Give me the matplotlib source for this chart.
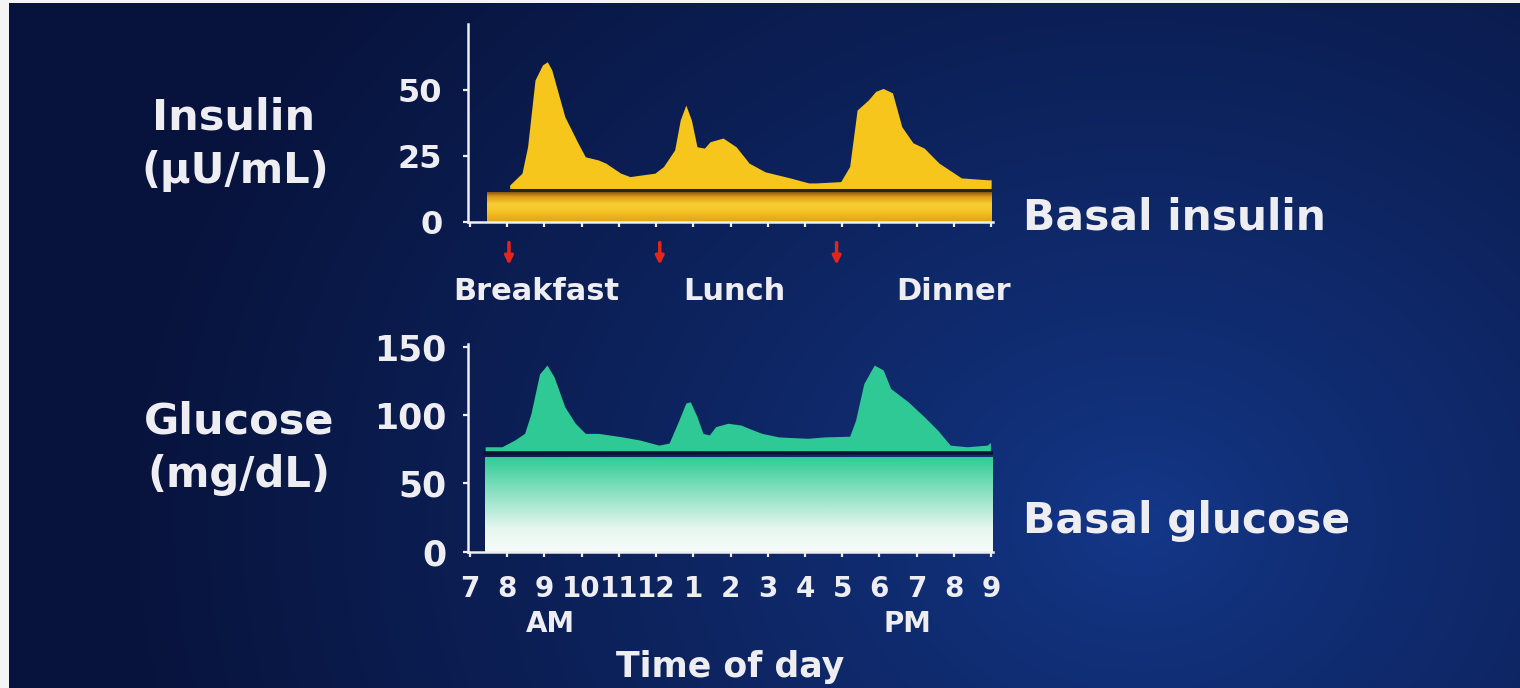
import numpy as np
import matplotlib.pyplot as plt
from matplotlib.colors import LinearSegmentedColormap
from matplotlib.transforms import blended_transform_factory

# --- data (hour of day, 24 h clock) ---
hour_ticks = list(range(7, 22))
hour_labels = ['7', '8', '9', '10', '11', '12', '1', '2', '3', '4', '5', '6', '7', '8', '9']

insulin_hours = [8.07, 8.4, 8.55, 8.75, 8.95, 9.08, 9.2, 9.55, 9.9, 10.1, 10.45, 10.65, 11.05,
                 11.3, 11.97, 12.2, 12.5, 12.65, 12.8, 12.95, 13.1, 13.3, 13.45, 13.8,
                 14.15, 14.5, 14.93, 15.6, 16.1, 16.3, 16.96, 17.2, 17.4, 17.7, 17.9, 18.1,
                 18.35, 18.6, 18.9, 19.2, 19.6, 20.2, 20.9, 21.0]
insulin_values = [14, 18.5, 28.5, 53.8, 59.5, 60.7, 57.6, 39.9, 30, 24.7, 23.5, 22.3, 18.5,
                  17.2, 18.5, 21, 27.3, 38.6, 44.3, 38.6, 28.5, 28, 30.4, 31.8,
                  28.5, 22.3, 19, 16.7, 14.8, 14.8, 15.3, 21, 42.4, 46.2, 49.5, 50.6,
                  48.9, 36.1, 30, 28, 22.3, 16.7, 16, 16]
insulin_basal = 12.2

glucose_hours = [7.41, 7.86, 8.2, 8.47, 8.64, 8.87, 9.07, 9.26, 9.55, 9.83, 10.1, 10.45,
                 11.1, 11.57, 12.08, 12.35, 12.58, 12.8, 12.92, 13.1, 13.26, 13.43, 13.6,
                 13.93, 14.28, 14.5, 14.84, 15.3, 16.07, 16.52, 17.2, 17.36, 17.58, 17.86,
                 18.1, 18.3, 18.77, 19.2, 19.56, 19.9, 20.35, 20.9, 20.98]
glucose_values = [76.8, 76.8, 81.7, 86.6, 101, 130, 136.6, 128, 106, 94, 86.6, 86.6,
                  84, 81.7, 78, 79.5, 94, 108.8, 109.7, 98.8, 86.6, 85.4, 91.5,
                  94, 92.7, 90.2, 86.6, 84, 83, 84, 84.5, 96.3, 123, 136.6,
                  133, 119.5, 109.7, 98.8, 89, 78, 76.8, 78, 80]
glucose_basal = 72

meals = ['Breakfast', 'Lunch', 'Dinner']
meal_hours = [8.05, 12.1, 16.85]
meal_label_hours = [8.78, 14.1, 20.0]

W, H = 1520, 688
WHITE = '#eeeef2'
plt.rcParams['font.family'] = 'DejaVu Sans'
plt.rcParams['font.weight'] = 'bold'


def fx(px):
    return px / W


def fy(py):
    return 1 - py / H


fig = plt.figure(figsize=(W / 100, H / 100), dpi=100, facecolor='#f4f4f4')

# dark blue backdrop, brighter towards the lower right
bg = fig.add_axes([fx(9), 0, 1 - fx(9), fy(3)])
bg.set_axis_off()
yy, xx = np.mgrid[0:685, 0:1511]
r = np.clip(np.hypot(xx - 1130, (yy - 520) * 1.2) / 1000, 0, 1) ** 0.8
inner = np.array([20, 56, 138]) / 255
outer = np.array([8, 20, 62]) / 255
img = inner[None, None, :] * (1 - r[..., None]) + outer[None, None, :] * r[..., None]
bg.imshow(img, aspect='auto', extent=[0, 1, 0, 1], origin='upper')
bg.set_xlim(0, 1)
bg.set_ylim(0, 1)

ins_cmap = LinearSegmentedColormap.from_list(
    'ins', [(0, '#e2a016'), (0.35, '#f5c426'), (0.6, '#f8cf34'), (0.85, '#dc9c18'), (1, '#8c5810')])
glu_cmap = LinearSegmentedColormap.from_list(
    'glu', [(0, '#f8fcfa'), (0.25, '#e6f6ef'), (0.65, '#86e0bf'), (1, '#30cc98')])


def style_axes(ax, ymax, yticks, ysize, ypad):
    ax.set_facecolor('none')
    ax.set_xlim(6.95, 21.05)
    ax.set_ylim(0, ymax)
    for side in ['top', 'right']:
        ax.spines[side].set_visible(False)
    for side in ['left', 'bottom']:
        ax.spines[side].set_color(WHITE)
        ax.spines[side].set_linewidth(1.8)
    ax.spines['left'].set_position(('data', 6.95))
    ax.set_xticks(hour_ticks)
    ax.set_yticks(yticks)
    ax.tick_params(colors=WHITE, length=3.5, width=1.6, direction='out')
    ax.tick_params(axis='y', labelsize=ysize, pad=ypad)
    for t in ax.get_yticklabels():
        t.set_fontweight('bold')


# insulin panel
ax1 = fig.add_axes([fx(468), fy(222), fx(993) - fx(468), (222 - 24) / H])
style_axes(ax1, 75, [0, 25, 50], 23, 15)
ax1.tick_params(axis='x', labelbottom=False)
ax1.imshow(np.linspace(0, 1, 200)[:, None], cmap=ins_cmap, aspect='auto', origin='lower',
           extent=[7.46, 21.0, 0, insulin_basal - 1.0], zorder=2)
ax1.fill_between(insulin_hours, insulin_basal, insulin_values, color='#f7c61d', lw=0, zorder=2)
ax1.plot([insulin_hours[0], insulin_hours[-1]], [insulin_basal, insulin_basal],
         color='#1d2a22', lw=2.2, zorder=3)

# meal markers
tr = blended_transform_factory(ax1.transData, ax1.transAxes)
for h in meal_hours:
    ax1.annotate('', xy=(h, -0.23), xytext=(h, -0.09), xycoords=tr, textcoords=tr,
                 arrowprops=dict(arrowstyle='-|>', color='#e3261c', lw=2.5, mutation_scale=12),
                 annotation_clip=False)
for name, h in zip(meals, meal_label_hours):
    ax1.text(h, fy(300), name, transform=blended_transform_factory(ax1.transData, fig.transFigure),
             ha='center', va='baseline', color=WHITE, fontsize=22, fontweight='bold')

# glucose panel
ax2 = fig.add_axes([fx(468), fy(551.7), fx(993) - fx(468), (551.7 - 344) / H])
style_axes(ax2, 152, [0, 50, 100, 150], 25, 12)
ax2.set_xticklabels(hour_labels)
ax2.tick_params(axis='x', labelsize=20, pad=13)
for t in ax2.get_xticklabels():
    t.set_fontweight('bold')
ax2.imshow(np.linspace(0, 1, 200)[:, None], cmap=glu_cmap, aspect='auto', origin='lower',
           extent=[7.41, 21.08, 0, glucose_basal - 3], zorder=2)
ax2.fill_between(glucose_hours, glucose_basal, glucose_values, color='#2fc995', lw=0, zorder=2)
ax2.plot([glucose_hours[0], 21.08], [glucose_basal, glucose_basal], color='#0b1530', lw=2.6, zorder=3)

# labels
txt = dict(color=WHITE, fontweight='bold')
fig.text(fx(234), fy(130), 'Insulin', ha='center', va='baseline', fontsize=31, **txt)
fig.text(fx(235), fy(183), '(µU/mL)', ha='center', va='baseline', fontsize=30, **txt)
fig.text(fx(239), fy(433), 'Glucose', ha='center', va='baseline', fontsize=31, **txt)
fig.text(fx(239), fy(487), '(mg/dL)', ha='center', va='baseline', fontsize=30, **txt)
fig.text(fx(1023), fy(230), 'Basal insulin', ha='left', va='baseline', fontsize=30.5, **txt)
fig.text(fx(1023), fy(533), 'Basal glucose', ha='left', va='baseline', fontsize=30.5, **txt)
fig.text(fx(550), fy(632), 'AM', ha='center', va='baseline', fontsize=20, **txt)
fig.text(fx(907), fy(632), 'PM', ha='center', va='baseline', fontsize=20, **txt)
fig.text(fx(730), fy(677), 'Time of day', ha='center', va='baseline', fontsize=25, **txt)

fig.savefig('out.png', dpi=100, facecolor=fig.get_facecolor())
